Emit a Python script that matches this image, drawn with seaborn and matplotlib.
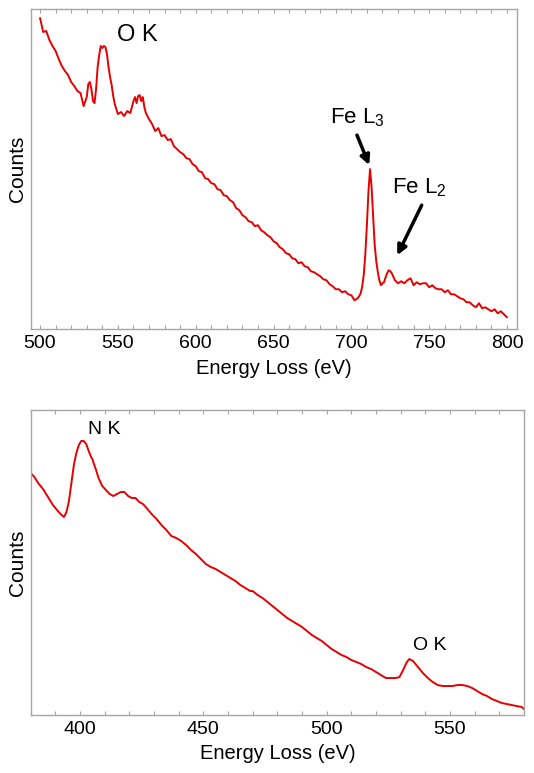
import numpy as np
import pandas as pd
import matplotlib
matplotlib.use('Agg')
import matplotlib.pyplot as plt
import seaborn as sns

# Top spectrum: O K and Fe L2,3 edges
top_ev = [500, 502, 504, 506, 508, 510, 512, 514, 516, 518, 520, 522, 524, 526, 528,
          530, 531, 532, 533, 534, 535, 536, 537, 538, 539, 540, 541, 542, 543, 544,
          545, 546, 547, 548, 550, 552, 554, 556, 558, 560, 561, 562, 563, 564, 565,
          566, 567, 568, 570, 572, 574, 576, 578, 580, 582, 584, 586, 588, 590, 592,
          594, 596, 598, 600, 602, 604, 606, 608, 610, 612, 614, 616, 618, 620, 622,
          624, 626, 628, 630, 632, 634, 636, 638, 640, 642, 644, 646, 648, 650, 652,
          654, 656, 658, 660, 662, 664, 666, 668, 670, 672, 674, 676, 678, 680, 682,
          684, 686, 688, 690, 692, 694, 696, 698, 700, 702, 704, 705, 706, 707, 708,
          709, 710, 711, 712, 713, 714, 715, 716, 717, 718, 719, 720, 721, 722, 723,
          724, 725, 726, 728, 730, 732, 734, 736, 738, 740, 742, 744, 746, 748, 750,
          752, 754, 756, 758, 760, 762, 764, 766, 768, 770, 772, 774, 776, 778, 780,
          782, 784, 786, 788, 790, 792, 794, 796, 798, 800]
top_counts = [311, 297, 298, 289, 283, 278, 270, 263, 258, 254, 247, 243, 238, 236, 223,
              232, 245, 247, 240, 228, 226, 240, 262, 274, 283, 281, 283, 282, 275, 262,
              252, 244, 233, 225, 215, 217, 213, 218, 216, 228, 232, 226, 233, 234, 228,
              232, 222, 216, 210, 205, 198, 201, 193, 194, 189, 190, 183, 180, 177, 175,
              171, 170, 165, 163, 158, 157, 151, 150, 146, 145, 140, 139, 134, 133, 129,
              127, 121, 119, 114, 112, 108, 107, 103, 104, 99, 97, 94, 92, 88, 86,
              82, 80, 76, 75, 71, 70, 66, 67, 63, 62, 58, 57, 55, 53, 50,
              49, 45, 43, 40, 40, 37, 38, 35, 34, 29, 31, 33, 36, 43, 55,
              76, 105, 138, 160, 142, 112, 84, 68, 57, 49, 44, 46, 47, 52, 56,
              59, 58, 56, 49, 46, 48, 46, 49, 51, 44, 47, 45, 46, 46, 42,
              44, 41, 40, 40, 37, 39, 35, 35, 33, 31, 30, 27, 27, 24, 22,
              26, 21, 22, 20, 18, 20, 16, 18, 15, 12]

# Bottom spectrum: N K and O K edges
bot_ev = [380, 381.5, 383, 385, 387, 389, 391, 392.5, 393.5, 394.5, 395.5, 396.5, 397.5,
          398.5, 399.5, 400.5, 401.5, 402.5, 403.5, 404.5, 405, 405.5, 406.5, 407.5, 409,
          410.5, 412, 413.5, 415, 416.5, 418, 419.5, 421, 422.5, 424, 425.5, 427, 429,
          431, 433, 435, 437, 439, 441, 443, 445, 447, 449, 451, 453, 455, 457, 459,
          461, 463, 465, 467, 469, 470, 472, 474, 476, 478, 480, 482, 484, 486, 488,
          490, 492, 494, 496, 498, 500, 502, 504, 506, 508, 510, 512, 514, 516, 518,
          520, 522, 524, 526, 528, 529.5, 531, 532.5, 533.5, 535, 537, 539, 541, 543,
          545, 547, 549, 551, 553, 555, 557, 559, 561, 563, 565, 567, 569, 571, 573,
          575, 577, 579, 580]
bot_counts = [242, 238, 232, 226, 218, 210, 204, 200, 198, 203, 214, 232, 250,
              262, 270, 274, 274, 271, 264, 258, 256, 252, 245, 237, 229,
              225, 221, 219, 221, 223, 223, 219, 217, 217, 213, 211, 207, 201,
              196, 190, 185, 179, 177, 174, 170, 165, 161, 156, 151, 148, 146, 143, 140,
              137, 134, 130, 127, 124, 124, 120, 117, 113, 109, 105, 101, 97, 94, 91,
              88, 84, 80, 77, 74, 70, 66, 63, 60, 58, 55, 53, 51, 48, 46,
              43, 40, 37, 37, 37, 38, 45, 53, 56, 54, 48, 42, 37, 33,
              30, 29, 29, 29, 30, 30, 29, 27, 24, 21, 19, 16, 14, 12, 11,
              10, 9, 8, 6]

RED = '#e60000'
GREY = '#a6a6a6'

sns.set_style('white')
plt.rcParams['font.family'] = ['Liberation Sans', 'DejaVu Sans']
plt.rcParams['text.color'] = 'black'
plt.rcParams['axes.labelcolor'] = 'black'
plt.rcParams['xtick.labelcolor'] = 'black'

fig = plt.figure(figsize=(5.34, 7.73), dpi=100)
ax1 = fig.add_axes([0.0575, 0.574, 0.9112, 0.4144])
ax2 = fig.add_axes([0.0575, 0.075, 0.9238, 0.3946])

sns.lineplot(x=top_ev, y=top_counts, ax=ax1, color=RED, lw=1.4)
sns.lineplot(x=bot_ev, y=bot_counts, ax=ax2, color=RED, lw=1.4)

for ax in (ax1, ax2):
    ax.set_xticks(np.arange(400, 801, 50))
    ax.set_xticks(np.arange(380, 801, 10), minor=True)
    ax.set_yticks([])
    ax.tick_params(axis='x', which='both', direction='in', length=3, width=0.8,
                   color=GREY, labelcolor='black', top=True, bottom=True,
                   labelsize=14, pad=4)
    for sp in ax.spines.values():
        sp.set_color(GREY)
        sp.set_linewidth(1.0)
    ax.set_ylabel('Counts', fontsize=15, labelpad=3)

ax1.set_xlabel('Energy Loss (eV)', fontsize=14.5, labelpad=5)
ax2.set_xlabel('Energy Loss (eV)', fontsize=14.5, labelpad=4.5)

ax1.set_xlim(494, 806.6)
ax1.set_ylim(0, 320)
ax2.set_xlim(380, 580)
ax2.set_ylim(0, 305)

# annotations, top panel
ax1.text(549.2, 287.6, 'O K', fontsize=17, ha='left', va='baseline')
ax1.text(703.9, 206, 'Fe L$_\\mathregular{3}$', fontsize=16, ha='center', va='baseline')
ax1.text(725.9, 136, 'Fe L$_\\mathregular{2}$', fontsize=16, ha='left', va='baseline')
arrow = dict(arrowstyle='-|>', color='black', lw=2.5, mutation_scale=14,
             shrinkA=0, shrinkB=0)
ax1.annotate('', xy=(711.5, 164), xytext=(703.6, 194), arrowprops=arrow)
ax1.annotate('', xy=(729.5, 74), xytext=(745.2, 124), arrowprops=arrow)

# annotations, bottom panel
ax2.text(403.4, 281, 'N K', fontsize=14, ha='left', va='baseline')
ax2.text(535.1, 65, 'O K', fontsize=14, ha='left', va='baseline')

fig.savefig('out.png', dpi=100)
